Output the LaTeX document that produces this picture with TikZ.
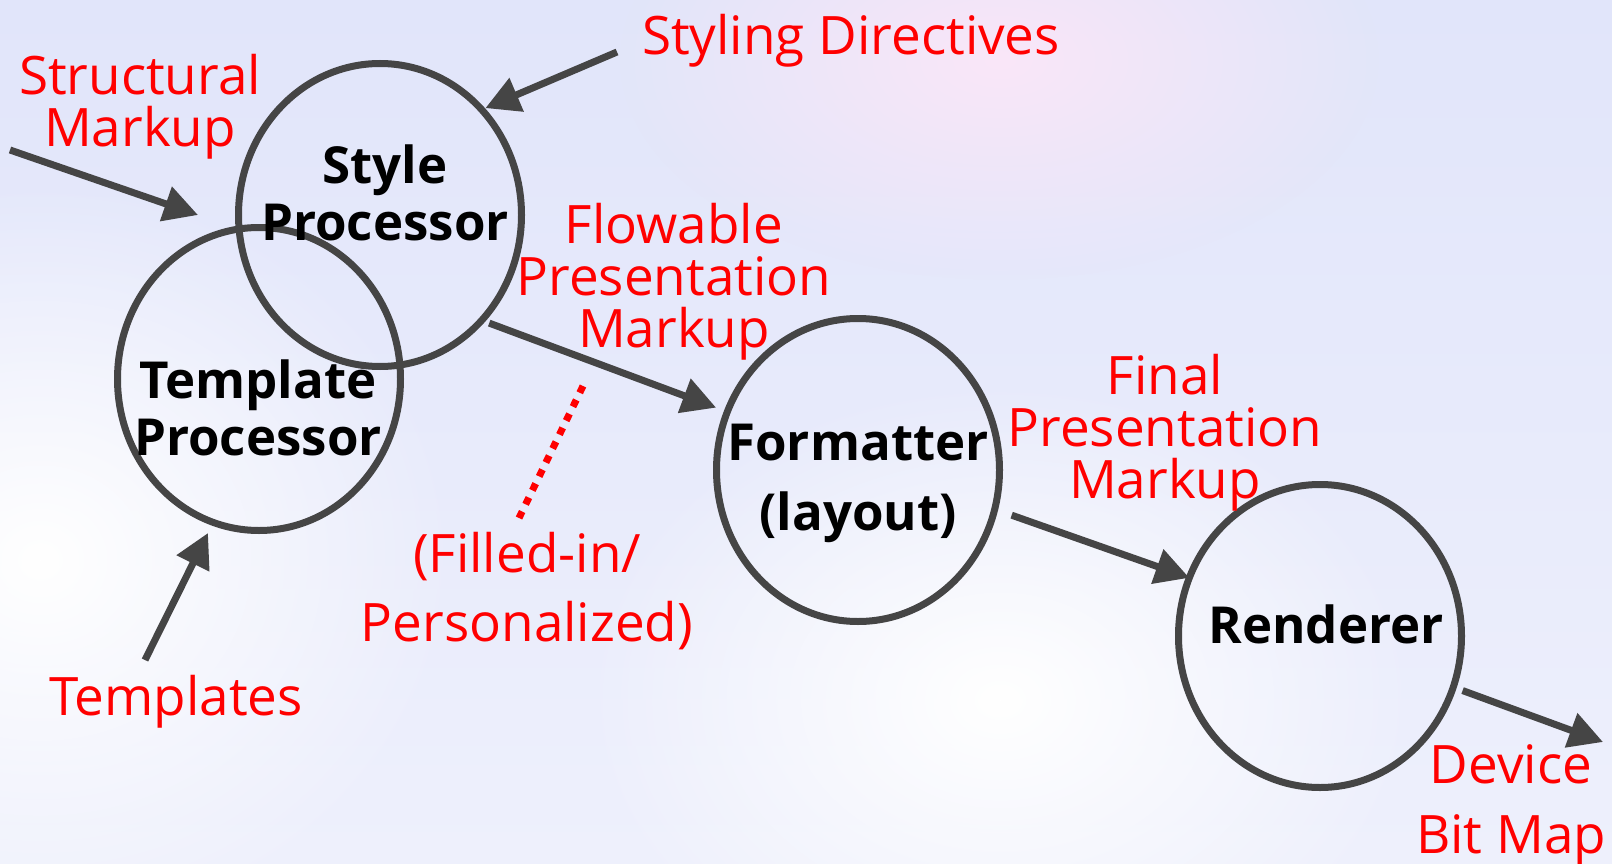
\documentclass[tikz,border=0pt]{standalone}
\usepackage{fontspec}
\setmainfont{Open Sans}
\usepackage{xcolor}
\usetikzlibrary{shapes.geometric,arrows.meta,fadings}
\definecolor{labelred}{HTML}{FF0000}
\definecolor{linegray}{HTML}{454545}
\definecolor{bgtop}{HTML}{E1E5FA}
\definecolor{bgbottom}{HTML}{EEF0FC}
\definecolor{bgpink}{HTML}{FAE6F8}
\tikzfading[name = softglow, inner color = transparent!0, outer color = transparent!100]

\begin{document}
\begin{tikzpicture}[x=1pt, y=-1pt,
    stage/.style={draw=linegray, line width=7pt, ellipse, minimum width=283pt, minimum height=303pt, inner sep=0pt, outer sep=0pt},
    stagename/.style={font=\bfseries\fontsize{51}{57}\selectfont, align=center, anchor=base, inner sep=0pt},
    datalabel/.style={text=labelred, font=\fontsize{53}{52}\selectfont, align=center, anchor=base, inner sep=0pt},
    flow/.style={draw=linegray, line width=7pt, -{Triangle[length=34pt, width=35pt]}}]
        % Background
        \useasboundingbox (0, 0) rectangle (1612, 864);
        \shade [top color = bgtop, bottom color = bgbottom] (0, 0) rectangle (1612, 864);
        \fill [white, path fading = softglow] (40, 560) ellipse [x radius = 420pt, y radius = 380pt];
        \fill [white, path fading = softglow] (1000, 700) ellipse [x radius = 420pt, y radius = 320pt];
        \fill [bgpink, path fading = softglow] (1000, 60) ellipse [x radius = 380pt, y radius = 220pt];

        % Stages
        \node [stage] (style) at (380, 215) {};
        \node [stage] (tmpl) at (259, 379) {};
        \node [stage] (fmt) at (858, 470) {};
        \node [stage] (rend) at (1320, 636) {};
        \node [stagename] (styleName) at (385, 240) {Style\\Processor};
        \node [stagename] (tmplName) at (258, 455) {Template\\Processor};
        \node [stagename, font = \bfseries\fontsize{51}{70}\selectfont] (fmtName) at (858, 530) {Formatter\\(layout)};
        \node [stagename] (rendName) at (1326, 643) {Renderer};

        % Data labels
        \node [datalabel] (structural) at (140, 147) {Structural\\Markup};
        \node [datalabel] (styling) at (851, 55) {Styling Directives};
        \node [datalabel] (flowable) at (674, 347) {Flowable\\Presentation\\Markup};
        \node [datalabel, font = \fontsize{53}{69}\selectfont] (filled) at (527, 641) {(Filled-in/\\Personalized)};
        \node [datalabel] (final) at (1165, 498) {Final\\Presentation\\Markup};
        \node [datalabel] (templates) at (176, 715) {Templates};
        \node [datalabel, font = \fontsize{53}{70}\selectfont] (device) at (1511, 853) {Device\\Bit Map};

        % Free ends
        \coordinate (structIn) at (10, 150);
        \coordinate (structTip) at (198, 215);
        \coordinate (stylingIn) at (617, 52);
        \coordinate (tmplIn) at (145, 660);
        \coordinate (tmplTip) at (208, 533);
        \coordinate (deviceTip) at (1603, 742);
        \coordinate (dotTop) at (583, 386);
        \coordinate (dotBottom) at (519, 518);

        % Draw the links
        \draw [flow] (structIn) -- (structTip);
        \draw [flow, shorten >= 4pt] (stylingIn) -- (style.46);
        \draw [flow] (tmplIn) -- (tmplTip);
        \draw [flow, shorten <= 8pt, shorten >= 12pt] (style.-46) -- (fmt.156);
        \draw [flow, shorten <= 18pt] (fmt.-16) -- (rend.156);
        \draw [flow, shorten <= 10pt] (rend.-21) -- (deviceTip);
        \draw [labelred, line width = 7pt, dash pattern = on 7.5pt off 8pt] (dotTop) -- (dotBottom);

    \end{tikzpicture}
\end{document}
